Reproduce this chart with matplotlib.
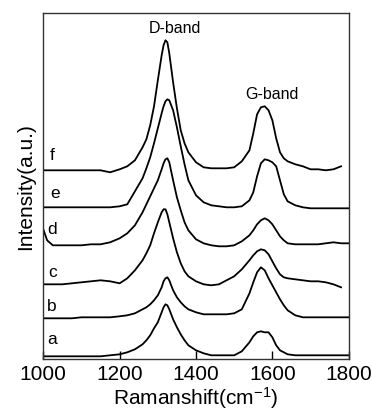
import numpy as np
import matplotlib
matplotlib.use("Agg")
import matplotlib.pyplot as plt

plt.rcParams["font.family"] = ["Liberation Sans", "DejaVu Sans"]
plt.rcParams["mathtext.fontset"] = "custom"
plt.rcParams["mathtext.rm"] = "Liberation Sans"
plt.rcParams["mathtext.it"] = "Liberation Sans"

# Raman shift grid (cm^-1)
shift = [1000, 1010, 1025, 1050, 1075, 1100, 1125, 1150, 1175, 1200,
         1220, 1240, 1260, 1270, 1280, 1290, 1300, 1310, 1315, 1320,
         1325, 1330, 1340, 1350, 1360, 1370, 1380, 1400, 1420, 1440,
         1460, 1480, 1500, 1520, 1540, 1550, 1560, 1570, 1580, 1590,
         1600, 1610, 1620, 1630, 1640, 1660, 1680, 1700, 1720, 1740,
         1760, 1780, 1800]

# stacked intensities (a.u., already offset)
spec_a = [4, 4, 4, 4, 4, 4, 4, 4, 5, 6,
          8, 11, 16, 20, 25, 32, 38, 48, 53, 56,
          55, 51, 41, 33, 26, 20, 15, 10, 7, 5,
          5, 5, 5, 9, 18, 24, 28, 29, 28, 28,
          23, 15, 10, 8, 6, 5, 5, 5, 5, 5,
          5, 5, 5]
spec_b = [42, 42, 42, 42, 42, 43, 43, 43, 43, 44,
          45, 47, 51, 53, 56, 60, 65, 73, 79, 82,
          83, 80, 70, 63, 58, 54, 51, 48, 46, 46,
          46, 46, 47, 51, 67, 78, 88, 93, 90, 82,
          75, 68, 61, 55, 50, 45, 43, 43, 43, 43,
          43, 43, 43]
spec_c = [76, 76, 76, 76, 77, 78, 79, 80, 79, 77,
          82, 90, 100, 107, 115, 127, 138, 148, 151, 151,
          146, 138, 122, 108, 97, 89, 84, 79, 76, 75,
          76, 80, 84, 91, 100, 105, 109, 111, 110, 106,
          99, 92, 86, 83, 82, 81, 80, 79, 79, 78,
          76, 73, np.nan]
spec_d = [131, 120, 115, 115, 115, 115, 116, 116, 118, 122,
          127, 135, 148, 156, 164, 172, 180, 191, 197, 201,
          202, 198, 180, 163, 150, 138, 130, 121, 117, 115,
          114, 114, 115, 119, 125, 130, 136, 140, 142, 140,
          136, 130, 124, 120, 117, 116, 116, 116, 116, 117,
          118, 117, 117]
spec_e = [153, 153, 153, 153, 153, 153, 153, 153, 153, 154,
          156, 169, 182, 192, 203, 217, 232, 247, 254, 259,
          261, 260, 250, 233, 214, 196, 180, 165, 158, 155,
          154, 153, 153, 154, 160, 168, 184, 197, 201, 200,
          198, 194, 180, 166, 159, 155, 153, 152, 152, 152,
          152, 152, 152]
spec_f = [190, 190, 190, 190, 190, 190, 190, 190, 188, 191,
          194, 200, 213, 221, 235, 254, 280, 305, 315, 320,
          318, 307, 278, 252, 230, 217, 208, 198, 193, 192,
          192, 192, 193, 199, 210, 227, 246, 253, 254, 250,
          240, 222, 208, 202, 199, 196, 194, 191, 191, 190,
          191, 194, np.nan]

spectra = [spec_a, spec_b, spec_c, spec_d, spec_e, spec_f]
labels = ["a", "b", "c", "d", "e", "f"]
label_x = [1023, 1023, 1025, 1023, 1031, 1023]
label_y = [21, 54, 88, 131, 167, 205]

fig = plt.figure(figsize=(3.72, 4.13), dpi=100)
ax = fig.add_axes([0.1164, 0.13, 0.821, 0.8378])

for s in spectra:
    ax.plot(shift, s, color="black", lw=1.3, solid_joinstyle="round")

for lab, lx, ly in zip(labels, label_x, label_y):
    ax.text(lx, ly, lab, fontsize=12.5, ha="center", va="center")

ax.text(1345, 332, "D-band", fontsize=11.5, ha="center", va="center")
ax.text(1598, 266, "G-band", fontsize=11.5, ha="center", va="center")

ax.set_xlim(1000, 1800)
ax.set_ylim(1, 347)
ax.set_xticks([1000, 1200, 1400, 1600, 1800])
ax.set_yticks([])
ax.tick_params(axis="x", direction="in", length=6, width=1, labelsize=15, pad=4)
for sp in ax.spines.values():
    sp.set_color("#333333")
    sp.set_linewidth(1)

ax.set_xlabel(r"Ramanshift(cm$^{-1}$)", fontsize=15, labelpad=1)
ax.set_ylabel("Intensity(a.u.)", fontsize=15, labelpad=6)

fig.savefig("out.png", dpi=100)
